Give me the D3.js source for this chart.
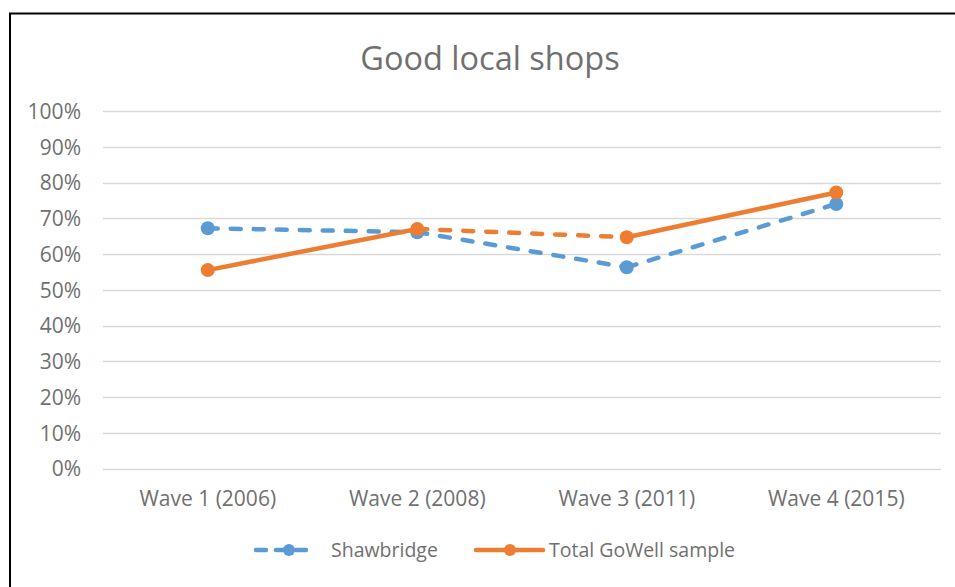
<!DOCTYPE html>
<html>
<head>
<meta charset="utf-8">
<script src="https://cdn.jsdelivr.net/npm/d3@7"></script>
<style>
  body { margin: 0; background: #fff; }
  text { font-family: "Open Sans", Lato, sans-serif; fill: #707070; }
</style>
</head>
<body>
<div id="chart"></div>
<script>
// data
const waves = ["Wave 1 (2006)", "Wave 2 (2008)", "Wave 3 (2011)", "Wave 4 (2015)"];
const shawbridge = [0.672, 0.661, 0.563, 0.740];
const totalGoWell = [0.555, 0.670, 0.647, 0.772];
const yTicks = [0, 0.1, 0.2, 0.3, 0.4, 0.5, 0.6, 0.7, 0.8, 0.9, 1.0];

const W = 955, H = 587;
const margin = { top: 111, right: 14, bottom: 119, left: 103 };

const svg = d3.select('#chart').append('svg')
  .attr('width', W)
  .attr('height', H);

// outer frame (runs off right/bottom edge)
svg.append('path')
  .attr('d', `M10,${H} L10,13.5 L${W},13.5`)
  .attr('fill', 'none')
  .attr('stroke', '#000')
  .attr('stroke-width', 2);

svg.append('text')
  .attr('x', 490).attr('y', 70)
  .attr('text-anchor', 'middle')
  .style('font-size', '32.5px')
  .text('Good local shops');

const x = d3.scaleBand().domain(waves).range([margin.left, W - margin.right]);
const y = d3.scaleLinear().domain([0, 1]).range([H - margin.bottom + 0.5, margin.top]);

// gridlines
svg.append('g').selectAll('line')
  .data(yTicks).join('line')
  .attr('x1', margin.left).attr('x2', W - margin.right)
  .attr('y1', d => Math.round(y(d)) + 0.5).attr('y2', d => Math.round(y(d)) + 0.5)
  .attr('stroke', '#d9d9d9').attr('stroke-width', 1.5);

// y axis labels
const yAxis = d3.axisLeft(y).tickValues(yTicks).tickFormat(d3.format('.0%')).tickSize(0).tickPadding(22);
svg.append('g').attr('transform', `translate(${margin.left},0)`).call(yAxis)
  .call(g => g.select('.domain').remove())
  .selectAll('text').style('font-size', '21px').attr('fill', '#707070').attr('dy', '0.35em')
  .style('font-family', '"Open Sans", sans-serif');

// x axis labels
const xAxis = d3.axisBottom(x).tickSize(0).tickPadding(23);
svg.append('g').attr('transform', `translate(0,${y(0)})`).call(xAxis)
  .call(g => g.select('.domain').remove())
  .selectAll('text').style('font-size', '21px').attr('fill', '#707070').attr('dy', '0.71em')
  .style('font-family', '"Open Sans", sans-serif');

const blue = '#5b9bd5', orange = '#ed7d31';
const cx = d => x(d) + x.bandwidth() / 2;

function drawSeries(vals, color, dashedSegs) {
  const g = svg.append('g');
  for (let i = 0; i < vals.length - 1; i++) {
    const dashed = dashedSegs.includes(i);
    g.append('line')
      .attr('x1', cx(waves[i])).attr('y1', y(vals[i]))
      .attr('x2', cx(waves[i + 1])).attr('y2', y(vals[i + 1]))
      .attr('stroke', color).attr('stroke-width', 4.5)
      .attr('stroke-linecap', 'round')
      .attr('stroke-dasharray', dashed ? '10,13' : null);
  }
  g.selectAll('circle').data(vals).join('circle')
    .attr('cx', (d, i) => cx(waves[i])).attr('cy', d => y(d))
    .attr('r', 7).attr('fill', color);
}

drawSeries(shawbridge, blue, [0, 1, 2]);
drawSeries(totalGoWell, orange, [1]);

// legend
const leg = svg.append('g');
const ly = 550;
leg.append('line').attr('x1', 256).attr('x2', 312).attr('y1', ly).attr('y2', ly)
  .attr('stroke', blue).attr('stroke-width', 4.5).attr('stroke-linecap', 'round')
  .attr('stroke-dasharray', '10,10');
leg.append('circle').attr('cx', 289).attr('cy', ly).attr('r', 6).attr('fill', blue);
leg.append('text').attr('x', 331).attr('y', ly).attr('dy', '0.35em').style('font-size', '19.5px').text('Shawbridge');
leg.append('line').attr('x1', 476).attr('x2', 543).attr('y1', ly).attr('y2', ly)
  .attr('stroke', orange).attr('stroke-width', 4.5).attr('stroke-linecap', 'round');
leg.append('circle').attr('cx', 510).attr('cy', ly).attr('r', 6).attr('fill', orange);
leg.append('text').attr('x', 549).attr('y', ly).attr('dy', '0.35em').style('font-size', '19.5px').text('Total GoWell sample');
</script>
</body>
</html>
